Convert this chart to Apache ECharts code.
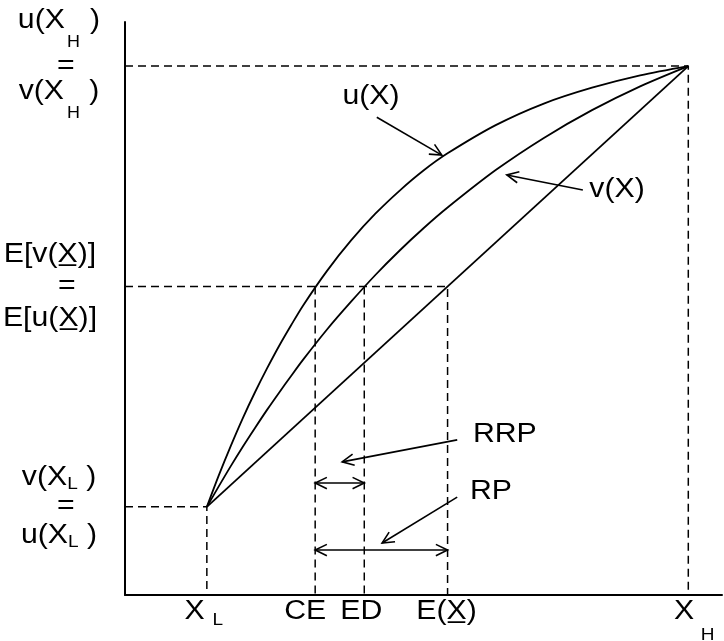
<!DOCTYPE html>
<html><head><meta charset="utf-8">
<script src="https://cdn.jsdelivr.net/npm/echarts@6/dist/echarts.min.js"></script>
<style>html,body{margin:0;padding:0;background:#fff}#c{width:724px;height:641px}</style>
</head><body><div id="c"></div>
<script>
// Data units: X_L = 0, X_H = 100 on the x axis; u(X_L) = 0, u(X_H) = 100 on the y axis
const xRange = [-17, 107];
const yRange = [-20, 110];

// key values
const X_L = 0, X_H = 100, CE = 22.5, ED = 32.7, EX = 50;
const U_L = 0, U_H = 100, EU = 50;

// curve samples
const xs    = [0, 2.5, 5, 7.5, 10, 12.5, 15, 17.5, 20, 25, 30, 35, 40, 45, 50, 60, 70, 80, 90, 100];
const uVals = [0, 7.2, 13.9, 20.2, 26.0, 31.4, 36.5, 41.2, 45.7, 53.6, 60.5, 66.5, 71.7, 76.3, 80.2, 86.6, 91.5, 95.1, 97.9, 100];
const vVals = [0, 4.7, 9.3, 13.7, 17.9, 22.0, 25.9, 29.7, 33.4, 40.3, 46.6, 52.6, 58.1, 63.2, 67.9, 76.4, 83.7, 90.0, 95.4, 100];
const lineXs = [X_L, X_H];
const lineVals = [U_L, U_H];

// tick labels (bottom)
const xTickValues = [X_L, CE, ED, EX, X_H];
const xTickLabels = ['{b|X}{sl|L}', '{b|CE}', '{b|ED}', '{b|E(X\u0332)}', '{b|X}{sh|H}'];

// tick labels (left)
const yTickValues = [U_L, EU, U_H];
const yTickLabels = [
  '{b|v(X}{sb|L}{b| )}\n{eq|=}\n{b|u(X}{sb|L}{b| )}',
  '{bm|E[v(X\u0332)]}\n{eqm|=}\n{bm|E[u(X\u0332)]}',
  '{bt|u(X   )}\n{h|H}\n{eqt|=}\n{bt|v(X   )}\n{h|H}'
];

// annotations
const noteTexts = ['u(X)', 'v(X)', 'RRP', 'RP'];
const notePos   = [[34.1, 93.2], [85.2, 71.9], [61.9, 16.3], [59.0, 3.4]];
const arrowFrom = [[35.3, 88.4], [78.1, 71.9], [52.0, 15.2], [52.0, 2.2]];
const arrowTo   = [[48.8, 79.8], [62.3, 75.3], [28.1, 10.2], [36.4, -8.2]];
// double arrows: [from x, to x, y]
const spans = [[CE, ED, 5.4], [CE, EX, -9.8]];

const FONT = '"Liberation Sans", Arial, sans-serif';
const SX = 1.12;
const FS = 27;
const rich = {
  b:  {fontSize: FS, lineHeight: 28, fontFamily: FONT, color: '#000', verticalAlign: 'top'},
  sl: {fontSize: 17, lineHeight: 17, fontFamily: FONT, color: '#000', padding: [14, 0, 0, 7], verticalAlign: 'top'},
  sh: {fontSize: 17, lineHeight: 17, fontFamily: FONT, color: '#000', padding: [29, 0, 0, 6], verticalAlign: 'top'},
  sb: {fontSize: 17, lineHeight: 17, fontFamily: FONT, color: '#000', padding: [12, 0, 0, 0], verticalAlign: 'top'},
  eq: {fontSize: FS, lineHeight: 30, fontFamily: FONT, color: '#000', padding: [0, 0, 0, 12]},
  bm: {fontSize: FS, lineHeight: 32, fontFamily: FONT, color: '#000'},
  eqm:{fontSize: FS, lineHeight: 32, fontFamily: FONT, color: '#000', padding: [0, 0, 0, 30]},
  bt: {fontSize: FS, lineHeight: 24, fontFamily: FONT, color: '#000'},
  h:  {fontSize: 16, lineHeight: 21, fontFamily: FONT, color: '#000', padding: [0, 0, 0, 26]},
  eqt:{fontSize: FS, lineHeight: 26, fontFamily: FONT, color: '#000', padding: [0, 0, 0, 12]}
};
// horizontal nudges of the tick labels, in pixels
const xTickNudge = [-3, -10, -3, -1, 6];
const yTickNudge = [0, -9, 0];

const chart = echarts.init(document.getElementById('c'), null, {renderer: 'canvas'});

function head(tip, from) {
  const a = Math.atan2(from[1] - tip[1], from[0] - tip[0]);
  const L = 13, w = 0.45;
  return {type: 'polyline', shape: {points: [
    [tip[0] + L * Math.cos(a + w), tip[1] + L * Math.sin(a + w)], tip,
    [tip[0] + L * Math.cos(a - w), tip[1] + L * Math.sin(a - w)]]},
    style: {stroke: '#000', fill: null, lineWidth: 1.6}};
}

const dashStyle = {color: '#000', width: 1.5, type: [8, 5]};
function dashed(data) {
  return {type: 'line', data: data, symbol: 'none', lineStyle: dashStyle, silent: true, z: 2};
}
function curve(xv, yv) {
  return {type: 'line', data: xv.map((x, i) => [x, yv[i]]), symbol: 'none', smooth: 0.3,
    lineStyle: {color: '#000', width: 1.8}, silent: true, z: 3};
}

chart.setOption({
  animation: false,
  backgroundColor: '#fff',
  grid: {left: 125, right: 2, top: 22, bottom: 46},
  xAxis: {type: 'value', min: xRange[0], max: xRange[1],
    axisLine: {show: true, onZero: false, lineStyle: {color: '#000', width: 2}},
    axisTick: {show: false}, axisLabel: {show: false}, splitLine: {show: false}},
  yAxis: {type: 'value', min: yRange[0], max: yRange[1],
    axisLine: {show: true, onZero: false, lineStyle: {color: '#000', width: 2}},
    axisTick: {show: false}, axisLabel: {show: false}, splitLine: {show: false}},
  series: [
    dashed([[xRange[0], U_H], [X_H, U_H], [X_H, yRange[0]]]),
    dashed([[xRange[0], EU], [EX, EU], [EX, yRange[0]]]),
    dashed([[CE, EU], [CE, yRange[0]]]),
    dashed([[ED, EU], [ED, yRange[0]]]),
    dashed([[xRange[0], U_L], [X_L, U_L], [X_L, yRange[0]]]),
    curve(xs, uVals),
    curve(xs, vVals),
    curve(lineXs, lineVals),
    { // arrows with labels pointing at things
      type: 'custom', silent: true, z: 4,
      data: arrowFrom.map((p, i) => [p[0], p[1], i]),
      renderItem: function (params, api) {
        const i = params.dataIndex;
        const p0 = api.coord(arrowFrom[i]), p1 = api.coord(arrowTo[i]);
        return {type: 'group', children: [
          {type: 'line', shape: {x1: p0[0], y1: p0[1], x2: p1[0], y2: p1[1]}, style: {stroke: '#000', lineWidth: 1.6}},
          head(p1, p0)]};
      }
    },
    { // double-headed spans (RRP, RP)
      type: 'custom', silent: true, z: 4,
      data: spans.map((s, i) => [s[0], s[2], i]),
      renderItem: function (params, api) {
        const s = spans[params.dataIndex];
        const p0 = api.coord([s[0], s[2]]), p1 = api.coord([s[1], s[2]]);
        return {type: 'group', children: [
          {type: 'line', shape: {x1: p0[0], y1: p0[1], x2: p1[0], y2: p1[1]}, style: {stroke: '#000', lineWidth: 1.6}},
          head(p0, p1), head(p1, p0)]};
      }
    },
    { // annotation texts
      type: 'custom', silent: true, z: 5,
      data: notePos.map((p, i) => [p[0], p[1], i]),
      renderItem: function (params, api) {
        const i = params.dataIndex;
        const p = api.coord(notePos[i]);
        return {type: 'text', x: p[0], y: p[1], scaleX: SX,
          style: {text: noteTexts[i], fontSize: FS, fontFamily: FONT, fill: '#000', align: 'center', verticalAlign: 'middle'}};
      }
    },
    { // bottom tick labels
      type: 'custom', silent: true, z: 5,
      data: xTickValues.map((v, i) => [v, yRange[0], i]),
      renderItem: function (params, api) {
        const i = params.dataIndex;
        const p = api.coord([xTickValues[i], yRange[0]]);
        return {type: 'text', x: p[0] + xTickNudge[i], y: p[1] + 3, scaleX: SX,
          style: {text: xTickLabels[i], rich: rich, align: 'center', verticalAlign: 'top', fill: '#000'}};
      }
    },
    { // left tick labels
      type: 'custom', silent: true, z: 5,
      data: yTickValues.map((v, i) => [xRange[0], v, i]),
      renderItem: function (params, api) {
        const i = params.dataIndex;
        const p = api.coord([xRange[0], yTickValues[i]]);
        return {type: 'text', x: p[0] - 66 + yTickNudge[i], y: p[1], scaleX: SX,
          style: {text: yTickLabels[i], rich: rich, align: 'center', verticalAlign: 'middle', fill: '#000'}};
      }
    }
  ]
});
</script></body></html>
